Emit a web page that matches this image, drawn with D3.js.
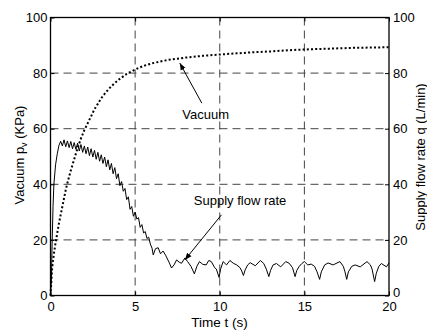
<!DOCTYPE html>
<head>
  <meta charset="utf-8">
  <script src="https://d3js.org/d3.v7.min.js"></script>
  <style>
  body,html {background:white; margin:0; font-family:"Liberation Sans", Arial, sans-serif;}
  .tick text {font-size:13px; fill:#000;}
  .lbl {font-size:13px; fill:#000;}
</style>
</head>

<body>
<svg id="chart"></svg>

<script>

  // vacuum (dotted), time in s / KPa
  const vacT = [0, 0.05, 0.1, 0.2, 0.3, 0.4, 0.5, 0.6, 0.7, 0.8, 0.9, 1.0, 1.2, 1.4, 1.6, 1.8, 2.0, 2.2, 2.4, 2.6, 2.8, 3.0, 3.3, 3.6, 4.0, 4.5, 5.0, 5.5, 6.0, 6.5, 7.0, 7.5, 8, 9, 10, 11, 12, 13, 14, 15, 16, 17, 18, 19, 20];
  const vacV = [0, 5, 10, 15, 19, 22.5, 26, 29, 32, 35, 38, 40.5, 45, 49, 53, 56.5, 59.5, 62, 64.5, 67, 69, 71, 73.3, 75.3, 77.5, 79.7, 81.3, 82.6, 83.5, 84.2, 84.8, 85.2, 85.6, 86.2, 86.7, 87.1, 87.5, 87.8, 88.2, 88.5, 88.7, 88.9, 89.1, 89.2, 89.3];

  // supply flow rate (solid), time in s / L/min
  const flowT = [0, 0.05, 0.1, 0.15, 0.2, 0.3, 0.4, 0.5,
    0.6, 0.7, 0.8, 0.9, 1.0, 1.1, 1.2, 1.3, 1.4, 1.5, 1.6, 1.7, 1.8, 1.9, 2.0, 2.1, 2.2, 2.3, 2.4, 2.5, 2.6, 2.7, 2.8, 2.9,
    3.0, 3.1, 3.2, 3.3, 3.4, 3.5, 3.6, 3.7, 3.8, 3.9, 4.0, 4.1, 4.2, 4.3, 4.4, 4.5, 4.6, 4.7, 4.8, 4.9, 5.0, 5.1, 5.2, 5.3,
    5.4, 5.5, 5.6, 5.7, 5.8, 5.9, 6.0, 6.07, 6.2, 6.36, 6.5, 6.65, 6.8, 7.0, 7.15, 7.3, 7.45, 7.6, 7.74, 7.94, 8.1, 8.3,
    8.5, 8.65, 8.8, 9.0, 9.2, 9.35, 9.5, 9.7, 9.8, 9.96, 10.05, 10.2, 10.4, 10.6, 10.8, 11.0, 11.2, 11.3, 11.4, 11.5, 11.65,
    11.8, 12.1, 12.4, 12.6, 12.75, 12.9, 13.0, 13.15, 13.35, 13.6, 13.9, 14.1, 14.3, 14.45, 14.55, 14.7, 14.85, 15.0, 15.2,
    15.4, 15.6, 15.75, 15.9, 16.0, 16.2, 16.4, 16.7, 17.1, 17.3, 17.4, 17.5, 17.6, 17.8, 18.0, 18.3, 18.7, 18.9, 19.0,
    19.15, 19.25, 19.4, 19.55, 19.85, 20];
  const flowV = [0, 5, 20, 32, 40, 47, 51, 54,
    55.5, 53.8, 56, 53.5, 55.6, 53.2, 55.4, 52.8, 55, 52.6, 54.8, 52, 54.3, 51.5, 53.8, 51, 53.4, 50.3, 52.8, 49.8, 52.2, 49, 51.5, 48.3,
    50.6, 47.5, 49.8, 46.3, 48.8, 45.2, 47.5, 43.8, 46, 42, 43.8, 39.5, 41, 37.5, 38.5, 34.5, 35.5, 31, 32, 28.5, 30, 27.5, 28, 24.5,
    25.5, 22.5, 23, 20.5, 21, 18.5, 17, 14.6, 16.8, 17.2, 15, 16, 14.5, 12, 9.9, 11, 12.8, 12, 11.6, 13.5, 12.2, 10.5,
    7.8, 10.5, 12.2, 11.2, 11, 12.6, 12.2, 10, 9.5, 6.5, 9.5, 12.2, 11, 12.6, 11.6, 11, 10, 8.8, 7.2, 9.2, 11,
    11.8, 10.7, 12.6, 11.5, 9.5, 6.8, 9, 11, 11.5, 10.3, 12.2, 11.6, 10, 6.8, 9, 10.5, 11.5, 12.2, 11,
    11.3, 10.5, 8.5, 5.8, 8.5, 11, 11.7, 11, 12.2, 10.5, 8.5, 5.8, 8.5, 10.5, 11, 10.3, 12.2, 11, 9.5,
    5, 8, 10.5, 11.5, 10.3, 11.7];

  const xTicks = [0, 5, 10, 15, 20];
  const yTicks = [0, 20, 40, 60, 80, 100];

  // annotations: [text, textT, textV, tailT, tailV, tipT, tipV]
  const notes = [
    ["Vacuum", 9.17, 63.5, 8.94, 69.2, 7.64, 83.6],
    ["Supply flow rate", 11.2, 32.6, 10.1, 29, 7.94, 12.8]
  ];

  const W = 427, H = 330;
  const x = d3.scaleLinear().domain([0, 20]).range([50.5, 389]);
  const y = d3.scaleLinear().domain([0, 100]).range([295.5, 17.5]);

  let svg = d3.select("#chart").attr("width", W).attr("height", H);

  svg.append("defs").append("marker")
    .attr("id", "arr")
    .attr("viewBox", "0 0 10 10")
    .attr("refX", 10).attr("refY", 5)
    .attr("markerWidth", 7).attr("markerHeight", 7)
    .attr("markerUnits", "userSpaceOnUse")
    .attr("orient", "auto")
    .append("path").attr("d", "M0,1L10,5L0,9z").attr("fill", "#000");

  // grid
  svg.append("g").selectAll("line")
    .data(xTicks.slice(1, -1)).enter().append("line")
    .attr("x1", d => x(d)).attr("x2", d => x(d))
    .attr("y1", y(100)).attr("y2", y(0))
    .attr("stroke", "#444").attr("stroke-dasharray", "8,5");
  svg.append("g").selectAll("line")
    .data(yTicks.slice(1, -1)).enter().append("line")
    .attr("y1", d => y(d)).attr("y2", d => y(d))
    .attr("x1", x(0)).attr("x2", x(20))
    .attr("stroke", "#444").attr("stroke-dasharray", "8,5");

  // axes
  let ax = svg.append("g").attr("transform", `translate(0,${y(0)})`)
    .call(d3.axisBottom(x).tickValues(xTicks).tickSize(-4).tickPadding(6.5));
  let axTop = svg.append("g").attr("transform", `translate(0,${y(100)})`)
    .call(d3.axisTop(x).tickValues(xTicks).tickSize(-4).tickFormat(""));
  let ayl = svg.append("g").attr("transform", `translate(${x(0)},0)`)
    .call(d3.axisLeft(y).tickValues(yTicks).tickSize(-4).tickPadding(3));
  let ayr = svg.append("g").attr("transform", `translate(${x(20)},0)`)
    .call(d3.axisRight(y).tickValues(yTicks).tickSize(-4).tickPadding(4));
  [ax, axTop, ayl, ayr].forEach(g => {
    g.select(".domain").remove();
    g.selectAll(".tick line").attr("stroke", "#000");
    g.selectAll("text").style("font-family", "Liberation Sans, Arial, sans-serif");
  });
  // right-hand "0" sits a little above its tick, as in the original
  ayr.selectAll(".tick text").filter(d => d === 0).attr("dy", "0.1em");

  // frame
  svg.append("rect")
    .attr("x", x(0)).attr("y", y(100))
    .attr("width", x(20) - x(0)).attr("height", y(0) - y(100))
    .attr("fill", "none").attr("stroke", "#000").attr("stroke-width", 1.3);

  // curves
  const vac = vacT.map((t, i) => [t, vacV[i]]);
  const flow = flowT.map((t, i) => [t, flowV[i]]);
  const line = d3.line().x(d => x(d[0])).y(d => y(d[1]));

  svg.append("path").datum(flow)
    .attr("d", line).attr("fill", "none")
    .attr("stroke", "#000").attr("stroke-width", 1);
  svg.append("path").datum(vac)
    .attr("d", line).attr("fill", "none")
    .attr("stroke", "#000").attr("stroke-width", 2)
    .attr("stroke-dasharray", "2,2.2");

  // annotations
  notes.forEach(n => {
    svg.append("line")
      .attr("x1", x(n[3])).attr("y1", y(n[4]))
      .attr("x2", x(n[5])).attr("y2", y(n[6]))
      .attr("stroke", "#000").attr("stroke-width", 1)
      .attr("marker-end", "url(#arr)");
    svg.append("text").attr("class", "lbl")
      .attr("x", x(n[1])).attr("y", y(n[2]))
      .attr("text-anchor", "middle").text(n[0]);
  });

  // axis labels
  svg.append("text").attr("class", "lbl")
    .attr("x", 219.5).attr("y", 327)
    .attr("text-anchor", "middle").style("font-size", "13.5px")
    .text("Time t (s)");

  let yl = svg.append("text").attr("class", "lbl")
    .attr("transform", "translate(24,155) rotate(-90)")
    .attr("text-anchor", "middle");
  yl.append("tspan").text("Vacuum p");
  yl.append("tspan").attr("dy", 3).style("font-size", "9px").text("v");
  yl.append("tspan").attr("dy", -3).text(" (KPa)");

  svg.append("text").attr("class", "lbl")
    .attr("transform", "translate(425,157) rotate(-90)")
    .attr("text-anchor", "middle")
    .text("Supply flow rate q (L/min)");

</script>
</body>
